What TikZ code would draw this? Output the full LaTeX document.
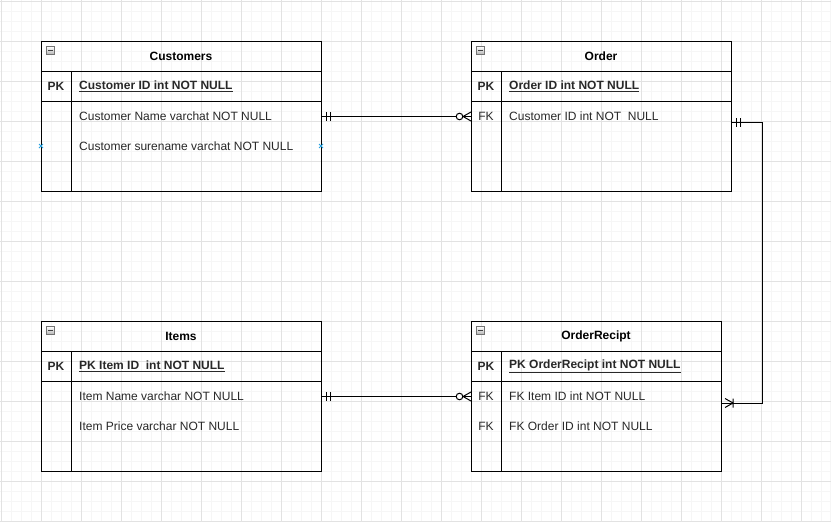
\documentclass[tikz,border=0pt]{standalone}
\usepackage{fontspec}
\setmainfont{Liberation Sans}
\usetikzlibrary{positioning}
\definecolor{gridminor}{RGB}{246,246,246}
\definecolor{gridmajor}{RGB}{226,226,226}
\definecolor{hoverblue}{RGB}{41,163,224}
\definecolor{fieldgray}{RGB}{40,40,40}

\tikzset{
  tbl/.style={draw, line width=1pt, anchor=north west, inner sep=0pt},
  tblline/.style={line width=1pt},
  tbltitle/.style={font=\fontsize{12}{14}\selectfont\bfseries, inner sep=0pt},
  keycol/.style={font=\fontsize{12}{14}\selectfont\bfseries, text=fieldgray, inner sep=0pt},
  fkcol/.style={keycol, font=\fontsize{12}{14}\selectfont},
  field/.style={font=\fontsize{12}{14}\selectfont, text=fieldgray, anchor=west, inner sep=0pt},
  keyfield/.style={field, font=\fontsize{12}{14}\selectfont\bfseries},
  collapse/.style={draw=black!55, minimum size=8pt, inner sep=0pt, top color=white, bottom color=black!30,
    path picture={\draw[line width=1.3pt, black!75] ([xshift=1.6pt]path picture bounding box.west) -- ([xshift=-1.6pt]path picture bounding box.east);}},
  conn/.style={line width=1pt},
  hover/.style={hoverblue, line width=0.8pt},
  pics/er one/.style={code={\draw[line width=1pt] (4,-4.5) -- (4,4.5) (8,-4.5) -- (8,4.5);}},
  pics/er zero many/.style={code={\draw[line width=1pt] (0,-4.5) -- (8,0) -- (0,4.5);
    \draw[line width=1pt, fill=white] (11.5,0) circle (3.3pt);}},
  pics/er one many/.style={code={\draw[line width=1pt] (3,-4.5) -- (11,0) -- (3,4.5) (11,-4.5) -- (11,4.5);}}
}

\begin{document}
\begin{tikzpicture}[x=1pt, y=-1pt]
  \useasboundingbox (0,0) rectangle (831,522);
  % background grid
  \fill[white] (0,0) rectangle (831,522);
  \draw[gridminor, line width=1pt, step=10pt, shift={(1,1)}] (-1,-1) grid (830,521);
  \draw[gridmajor, line width=1pt, step=40pt, shift={(1,1)}] (-1,-1) grid (830,521);

  % Customers
  \node[tbl, minimum width=280pt, minimum height=150pt] (customers) at (41,41) {};
  \draw[tblline] (41,71) -- (321,71) (41,101) -- (321,101) (71,71) -- (71,191);
  \node[collapse] (customers-btn) at (50.5,50.5) {};
  \node[tbltitle] (customers-title) at (181,56.5) {Customers};
  \node[keycol] (cust-pk) at (56,86.5) {PK};
  \node[keyfield] (cust-id) at (79,86.5) {\underline{Customer ID int NOT NULL}};
  \node[field] (cust-name) at (79,116.5) {Customer Name varchat NOT NULL};
  \node[field] (cust-surname) at (79,146.5) {Customer surename varchat NOT NULL};
  \draw[hover] (39,144) -- (43,148) (39,148) -- (43,144);
  \draw[hover] (319,144) -- (323,148) (319,148) -- (323,144);

  % Order
  \node[tbl, minimum width=260pt, minimum height=150pt] (order) at (471,41) {};
  \draw[tblline] (471,71) -- (731,71) (471,101) -- (731,101) (501,71) -- (501,191);
  \node[collapse] (order-btn) at (480.5,50.5) {};
  \node[tbltitle] (order-title) at (601,56.5) {Order};
  \node[keycol] (ord-pk) at (486,86.5) {PK};
  \node[keyfield] (ord-id) at (509,86.5) {\underline{Order ID int NOT NULL}};
  \node[fkcol] (ord-fk) at (486,116.5) {FK};
  \node[field] (ord-cust) at (509,116.5) {Customer ID int NOT\ \ NULL};

  % Items
  \node[tbl, minimum width=280pt, minimum height=150pt] (items) at (41,321) {};
  \draw[tblline] (41,351) -- (321,351) (41,381) -- (321,381) (71,351) -- (71,471);
  \node[collapse] (items-btn) at (50.5,330.5) {};
  \node[tbltitle] (items-title) at (181,336.5) {Items};
  \node[keycol] (item-pk) at (56,366.5) {PK};
  \node[keyfield] (item-id) at (79,366.5) {\underline{PK Item ID\ \ int NOT NULL}};
  \node[field] (item-name) at (79,396.5) {Item Name varchar NOT NULL};
  \node[field] (item-price) at (79,426.5) {Item Price varchar NOT NULL};

  % OrderRecipt
  \node[tbl, minimum width=250pt, minimum height=150pt] (receipt) at (471,321) {};
  \draw[tblline] (471,351) -- (721,351) (471,381) -- (721,381) (501,351) -- (501,471);
  \node[collapse] (receipt-btn) at (480.5,330.5) {};
  \node[tbltitle] (receipt-title) at (596,336.5) {OrderRecipt};
  \node[keycol] (rec-pk) at (486,366.5) {PK};
  \node[keyfield] (rec-id) at (509,366.5) {\underline{PK OrderRecipt int NOT NULL}};
  \node[fkcol] (rec-fk1) at (486,396.5) {FK};
  \node[field] (rec-item) at (509,396.5) {FK Item ID int NOT NULL};
  \node[fkcol] (rec-fk2) at (486,426.5) {FK};
  \node[field] (rec-order) at (509,426.5) {FK Order ID int NOT NULL};

  % relations
  \draw[conn] (customers.east |- cust-name.west) -- (order.west |- cust-name.west);
  \pic at (customers.east |- cust-name.west) {er one};
  \pic[xscale=-1] at (order.west |- cust-name.west) {er zero many};

  \draw[conn] (items.east |- item-name.west) -- (receipt.west |- item-name.west);
  \pic at (items.east |- item-name.west) {er one};
  \pic[xscale=-1] at (receipt.west |- item-name.west) {er zero many};

  \draw[conn] ([yshift=-6pt]order.east |- ord-cust.west) -- ++(30,0)
    |- ([yshift=-6.5pt]receipt.east |- rec-item.west);
  \pic at ([yshift=-6pt]order.east |- ord-cust.west) {er one};
  \pic at ([yshift=-6.5pt]receipt.east |- rec-item.west) {er one many};
\end{tikzpicture}
\end{document}
